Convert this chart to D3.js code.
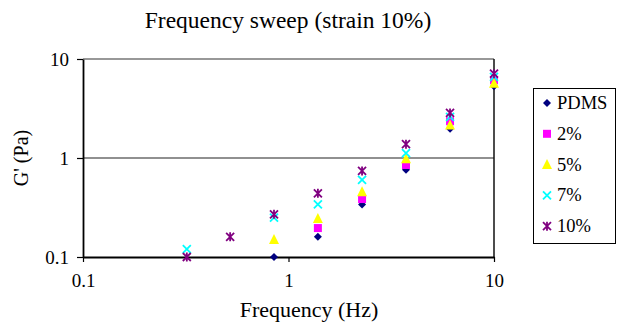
<!DOCTYPE html>
<html>
<head>
<meta charset="utf-8">
<script src="https://cdn.jsdelivr.net/npm/d3@7"></script>
<style>
  html, body { margin: 0; padding: 0; background: #fff; }
  svg { display: block; }
  svg text { font-family: "Liberation Serif", "Times New Roman", "DejaVu Serif", serif !important; }
</style>
</head>
<body>
<svg id="chart" width="617" height="324"></svg>
<script>
// Data
const frequencies = [0.32, 0.52, 0.85, 1.39, 2.28, 3.73, 6.11, 10];
const seriesNames = ["PDMS", "2%", "5%", "7%", "10%"];
const pdms   = [null, null, 0.10, 0.16, 0.34, 0.76, 1.98, 5.3];
const s2     = [null, null, null, 0.196, 0.385, 0.85, 2.35, 6.1];
const s5     = [null, null, 0.15, 0.245, 0.455, 0.98, 2.15, 5.7];
const s7     = [0.12, null, 0.25, 0.34, 0.60, 1.12, 2.6, 6.6];
const s10    = [0.10, 0.16, 0.27, 0.44, 0.74, 1.38, 2.85, 7.1];
const xTicks = [0.1, 1, 10];
const yTicks = [0.1, 1, 10];
const titleText = "Frequency sweep (strain 10%)";
const xTitle = "Frequency (Hz)";
const yTitle = "G' (Pa)";

const seriesValues = [pdms, s2, s5, s7, s10];
const colors = ["#000080", "#FF00FF", "#FFFF00", "#00FFFF", "#800080"];
const shapes = ["diamond", "square", "triangle", "x", "star"];

const svg = d3.select("#chart");
const L = 83, R = 494, T = 59, B = 257;

const x = d3.scaleLog().domain([0.1, 10]).range([L, R]);
const y = d3.scaleLog().domain([0.1, 10]).range([B, T]);

// gridline at 1 and plot border
svg.append("g").selectAll("line").data(yTicks.filter(d => d > 0.1 && d < 10)).join("line")
  .attr("x1", L).attr("x2", R).attr("y1", d => y(d)).attr("y2", d => y(d))
  .attr("stroke", "#222").attr("stroke-width", 1.2);
svg.append("line").attr("x1", L).attr("x2", R).attr("y1", T).attr("y2", T)
  .attr("stroke", "#333").attr("stroke-width", 1.2);
svg.append("line").attr("x1", R).attr("x2", R).attr("y1", T).attr("y2", B)
  .attr("stroke", "#111").attr("stroke-width", 1.5);

// axes
const xAxis = d3.axisBottom(x).tickValues(xTicks).tickFormat(d => String(d)).tickSizeInner(5).tickSizeOuter(0).tickPadding(12);
const gx = svg.append("g").attr("transform", `translate(0,${B})`).call(xAxis);
const yAxis = d3.axisLeft(y).tickValues(yTicks).tickFormat(d => String(d)).tickSizeInner(6).tickSizeOuter(0).tickPadding(8);
const gy = svg.append("g").attr("transform", `translate(${L},0)`).call(yAxis);
[gx, gy].forEach(g => {
  g.attr("font-family", null).attr("font-size", null);
  g.select(".domain").attr("stroke", "#000").attr("stroke-width", 1.8);
  g.selectAll(".tick line").attr("stroke", "#000").attr("stroke-width", 1.2);
  g.selectAll(".tick text").attr("fill", "#000").style("font-size", "19px");
});

// marker path generator
function markerPath(shape, s) {
  const h = s / 2;
  switch (shape) {
    case "diamond": return `M0,${-h}L${h},0L0,${h}L${-h},0Z`;
    case "square": return `M${-h},${-h}H${h}V${h}H${-h}Z`;
    case "triangle": return `M0,${-h-1}L${h+0.5},${h}L${-h-0.5},${h}Z`;
    case "x": return `M${-h},${-h}L${h},${h}M${h},${-h}L${-h},${h}`;
    case "star": return `M${-h},${-h}L${h},${h}M${h},${-h}L${-h},${h}M0,${-h-0.5}V${h+0.5}`;
  }
}
function drawMarker(g, shape, color, size) {
  const p = g.append("path").attr("d", markerPath(shape, size));
  if (shape === "x" || shape === "star") {
    p.attr("fill", "none").attr("stroke", color).attr("stroke-width", 1.8);
  } else {
    p.attr("fill", color).attr("stroke", "none");
  }
}
const sizes = [8, 8, 9, 8, 8];

seriesValues.forEach((vals, si) => {
  const g = svg.append("g");
  frequencies.forEach((f, i) => {
    const v = vals[i];
    if (v == null) return;
    const m = g.append("g").attr("transform", `translate(${x(f)},${y(v)})`);
    drawMarker(m, shapes[si], colors[si], sizes[si]);
  });
});

// title & axis titles
svg.append("text").attr("x", 288).attr("y", 28).attr("text-anchor", "middle")
  .style("font-size", "23.5px").attr("fill", "#000").text(titleText);
svg.append("text").attr("x", 309).attr("y", 317).attr("text-anchor", "middle")
  .style("font-size", "22px").attr("fill", "#000").text(xTitle);
svg.append("text").attr("transform", "translate(28,158) rotate(-90)").attr("text-anchor", "middle")
  .style("font-size", "20px").attr("fill", "#000").text(yTitle);

// legend
const lg = svg.append("g");
lg.append("rect").attr("x", 533.5).attr("y", 88.5).attr("width", 82).attr("height", 155)
  .attr("fill", "#fff").attr("stroke", "#000").attr("stroke-width", 1);
seriesNames.forEach((name, i) => {
  const cy = 103 + i * 30.8;
  const m = lg.append("g").attr("transform", `translate(547,${cy})`);
  drawMarker(m, shapes[i], colors[i], sizes[i]);
  lg.append("text").attr("x", 557).attr("y", cy + 6).style("font-size", "18.5px")
    .attr("fill", "#000").text(name);
});
</script>
</body>
</html>
